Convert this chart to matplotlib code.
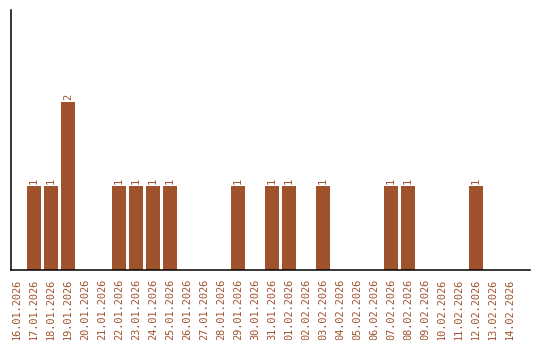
import matplotlib
matplotlib.use('Agg')
import matplotlib.pyplot as plt

# данные
dates = ['16.01.2026', '17.01.2026', '18.01.2026', '19.01.2026', '20.01.2026',
         '21.01.2026', '22.01.2026', '23.01.2026', '24.01.2026', '25.01.2026',
         '26.01.2026', '27.01.2026', '28.01.2026', '29.01.2026', '30.01.2026',
         '31.01.2026', '01.02.2026', '02.02.2026', '03.02.2026', '04.02.2026',
         '05.02.2026', '06.02.2026', '07.02.2026', '08.02.2026', '09.02.2026',
         '10.02.2026', '11.02.2026', '12.02.2026', '13.02.2026', '14.02.2026']
counts = [0, 1, 1, 2, 0, 0, 1, 1, 1, 1, 0, 0, 0, 1, 0,
          1, 1, 0, 1, 0, 0, 0, 1, 1, 0, 0, 0, 1, 0, 0]

color = '#A0522D'
font = 'DejaVu Sans Mono'

fig = plt.figure(figsize=(5.4, 3.4), dpi=100)
ax = fig.add_axes([11 / 540, 70 / 340, 519 / 540, 260 / 340])

x = list(range(len(dates)))
ax.bar(x, counts, width=0.82, color=color)

# подписи над столбцами
for i, v in enumerate(counts):
    if v > 0:
        ax.text(i, v + 0.03, str(v), rotation=90, ha='center', va='bottom',
                color=color, fontsize=7.5, family=font)

ax.set_xlim(-0.35, 30.18)
ax.set_ylim(0, 3.1)
ax.set_xticks(x)
ax.set_xticklabels(dates, rotation=90, color=color, fontsize=7.4, family=font)
ax.tick_params(axis='x', length=0, pad=6)
ax.set_yticks([])
ax.spines['top'].set_visible(False)
ax.spines['right'].set_visible(False)
ax.spines['left'].set_linewidth(1.1)
ax.spines['bottom'].set_linewidth(1.1)

fig.savefig('out.png', dpi=100)
